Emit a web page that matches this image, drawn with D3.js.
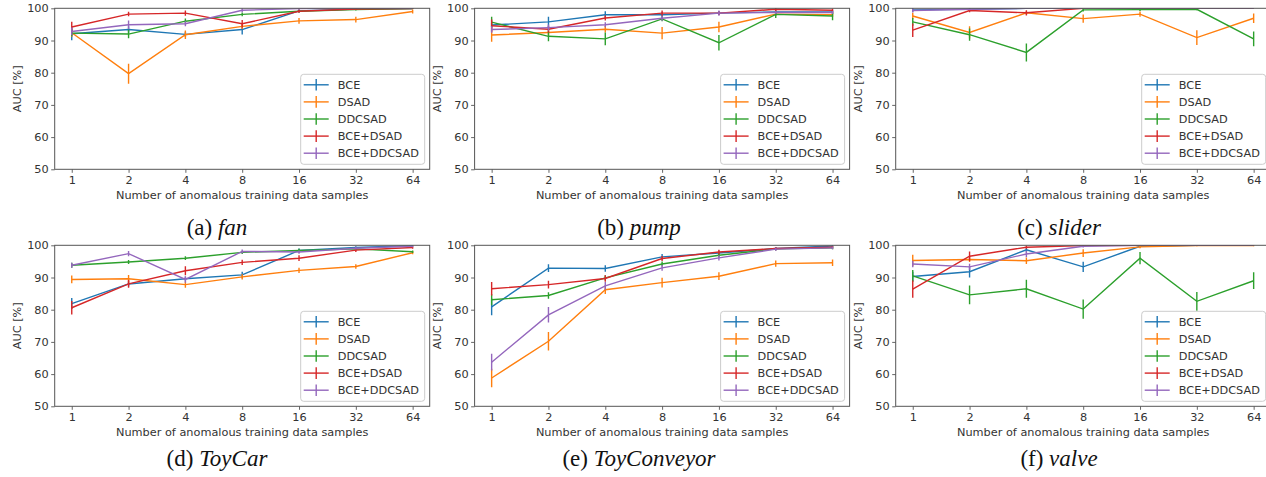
<!DOCTYPE html>
<html>
<head>
<meta charset="utf-8">
<script src="https://cdn.jsdelivr.net/npm/d3@7"></script>
<style>
  body { margin:0; background:#fff; }
  svg { display:block; }
  .ax text, .lab { font-family:"DejaVu Sans", sans-serif; font-size:11.3px; fill:#333; }
  .ax .tick line { stroke:#555; stroke-width:0.9; }
  .ax .domain { display:none; }
  .cap { font-family:"Liberation Serif", serif; font-size:23px; fill:#111; }
</style>
</head>
<body>
<svg width="1266" height="477"></svg>
<script>
const xTicks = [1, 2, 4, 8, 16, 32, 64];
const yTicks = [50, 60, 70, 80, 90, 100];
const methods = ['BCE', 'DSAD', 'DDCSAD', 'BCE+DSAD', 'BCE+DDCSAD'];
const colors = ['#1f77b4', '#ff7f0e', '#2ca02c', '#d62728', '#9467bd'];

// mean AUC per method (rows follow `methods`)
const fanAuc = [
  [92.1, 93.4, 91.9, 93.4, 99.2, 99.8, 99.9],
  [92.4, 79.7, 91.8, 94.4, 96.1, 96.5, 99.0],
  [92.3, 92.0, 96.0, 98.1, 99.1, 99.6, 99.9],
  [94.2, 98.2, 98.5, 95.2, 99.1, 99.8, 99.9],
  [92.8, 94.9, 95.2, 99.4, 99.9, 100, 100]];
const fanStd = [
  [2.0, 1.0, 0.8, 1.5, 0.5, 0.2, 0.1],
  [1.2, 3.1, 1.3, 0.8, 0.9, 0.9, 0.6],
  [1.0, 1.3, 0.8, 0.6, 0.4, 0.3, 0.1],
  [1.6, 0.7, 0.8, 1.2, 0.5, 0.2, 0.1],
  [1.2, 1.3, 0.8, 0.6, 0.2, 0.1, 0.1]];

const pumpAuc = [
  [94.8, 95.8, 98.0, 98.0, 98.5, 98.9, 98.9],
  [91.7, 92.5, 93.5, 92.3, 94.2, 98.2, 98.0],
  [95.7, 91.3, 90.5, 96.7, 89.3, 98.1, 97.6],
  [94.6, 93.5, 97.0, 98.5, 98.5, 99.7, 99.4],
  [93.4, 94.0, 94.9, 96.9, 98.5, 98.7, 98.7]];
const pumpStd = [
  [0.8, 1.6, 1.1, 0.8, 0.6, 0.6, 0.5],
  [2.1, 1.0, 1.0, 1.9, 1.6, 0.6, 0.6],
  [1.7, 1.5, 2.0, 0.7, 2.4, 1.1, 1.3],
  [1.9, 1.0, 0.8, 0.8, 0.6, 0.5, 0.5],
  [1.0, 1.0, 0.8, 0.8, 0.8, 0.5, 0.5]];

const sliderAuc = [
  [99.5, 99.7, 100, 100, 100, 100, 100],
  [97.6, 92.5, 98.6, 96.8, 98.2, 90.9, 96.9],
  [95.8, 91.8, 86.3, 99.5, 99.6, 99.7, 90.5],
  [93.2, 99.3, 98.6, 100, 100, 100, 100],
  [99.3, 99.7, 100, 100, 100, 100, 100]];
const sliderStd = [
  [0.6, 0.3, 0.1, 0, 0, 0, 0],
  [1.0, 1.9, 0.6, 1.3, 0.8, 2.3, 1.5],
  [1.2, 1.9, 2.8, 0.5, 0.4, 0.3, 2.3],
  [2.1, 0.5, 0.8, 0.1, 0, 0, 0],
  [0.6, 0.3, 0.1, 0, 0, 0, 0]];

const toyCarAuc = [
  [81.9, 88.0, 89.6, 90.8, 98.4, 99.3, 99.9],
  [89.4, 89.6, 87.8, 90.2, 92.2, 93.4, 97.7],
  [93.8, 94.8, 96.0, 97.8, 98.4, 98.9, 98.0],
  [80.6, 88.0, 92.1, 94.7, 96.0, 98.5, 99.3],
  [93.8, 97.4, 89.4, 98.1, 97.9, 99.1, 99.7]];
const toyCarStd = [
  [1.7, 0.8, 0.6, 1.0, 0.6, 0.4, 0.2],
  [1.2, 1.2, 1.0, 0.8, 0.8, 0.7, 0.5],
  [0.8, 0.6, 0.6, 0.5, 0.5, 0.4, 0.4],
  [2.1, 1.2, 1.4, 0.8, 0.9, 0.6, 0.4],
  [0.8, 0.8, 1.0, 0.6, 0.5, 0.4, 0.3]];

const toyConveyorAuc = [
  [80.9, 92.9, 92.8, 96.4, 97.6, 99.0, 99.8],
  [58.8, 70.2, 86.2, 88.4, 90.4, 94.3, 94.6],
  [83.1, 84.4, 89.9, 94.2, 96.9, 98.9, 99.2],
  [86.5, 87.8, 89.7, 95.9, 97.9, 99.0, 99.4],
  [63.7, 78.4, 87.4, 93.0, 96.1, 98.8, 99.2]];
const toyConveyorStd = [
  [2.6, 1.2, 1.0, 0.9, 0.8, 0.5, 0.4],
  [2.9, 2.9, 1.3, 1.5, 1.2, 1.0, 1.0],
  [1.7, 1.0, 0.8, 0.8, 0.6, 0.4, 0.4],
  [2.1, 1.2, 1.0, 0.8, 0.7, 0.5, 0.4],
  [2.6, 2.4, 1.2, 0.9, 0.8, 0.5, 0.4]];

const valveAuc = [
  [90.3, 91.8, 98.6, 93.3, 99.7, 100, 100],
  [95.3, 95.6, 95.2, 97.6, 99.5, 99.9, 99.9],
  [90.5, 84.6, 86.5, 80.2, 96.0, 82.6, 89.0],
  [86.4, 96.6, 99.4, 99.9, 100, 100, 100],
  [94.2, 93.3, 97.3, 99.7, 100, 100, 100]];
const valveStd = [
  [1.5, 1.8, 0.8, 1.6, 0.3, 0.1, 0.1],
  [1.8, 0.8, 1.0, 1.2, 0.4, 0.2, 0.2],
  [1.8, 2.9, 2.8, 3.0, 1.9, 2.9, 2.6],
  [2.7, 1.5, 0.5, 0.2, 0, 0, 0],
  [1.0, 1.0, 1.0, 0.4, 0, 0, 0]];

// layout of the six sub-figures
const colX = [54.7, 474.6, 895.7], rowY = [8.3, 245.3], pw = 375, ph = 161;
const capX = [217, 639, 1059], capY = [235, 466];

const panels = [
  {tag:'(a)', name:'fan', auc:fanAuc, std:fanStd},
  {tag:'(b)', name:'pump', auc:pumpAuc, std:pumpStd},
  {tag:'(c)', name:'slider', auc:sliderAuc, std:sliderStd},
  {tag:'(d)', name:'ToyCar', auc:toyCarAuc, std:toyCarStd},
  {tag:'(e)', name:'ToyConveyor', auc:toyConveyorAuc, std:toyConveyorStd},
  {tag:'(f)', name:'valve', auc:valveAuc, std:valveStd}];

const svg = d3.select('svg');

panels.forEach(function(p, i){
  const c = i % 3, r = Math.floor(i / 3);
  const x0 = colX[c], y0 = rowY[r];
  const x = d3.scalePoint(xTicks, [x0, x0 + pw]).padding(0.3); // 5% margins like matplotlib
  const y = d3.scaleLinear([50, 100], [y0 + ph, y0]);
  const g = svg.append('g');

  const clipId = 'clip' + i;
  svg.append('clipPath').attr('id', clipId).append('rect')
    .attr('x', x0).attr('y', y0).attr('width', pw).attr('height', ph);

  // axes
  g.append('g').attr('class', 'ax').attr('transform', `translate(${x0},0)`)
    .call(d3.axisLeft(y).tickValues(yTicks).tickSize(3.5).tickPadding(2.5));
  g.append('g').attr('class', 'ax').attr('transform', `translate(0,${y0 + ph})`)
    .call(d3.axisBottom(x).tickSize(3.5).tickPadding(3));

  g.append('text').attr('class', 'lab')
    .attr('transform', `translate(${x0 - 37.5},${y0 + ph / 2}) rotate(-90)`)
    .attr('text-anchor', 'middle').attr('dy', '0.35em')
    .text('AUC [%]');
  g.append('text').attr('class', 'lab')
    .attr('x', x0 + pw / 2).attr('y', y0 + ph + 25.5).attr('dy', '0.35em')
    .attr('text-anchor', 'middle')
    .text('Number of anomalous training data samples');

  // series: lines + vertical error bars (no caps)
  const plot = g.append('g').attr('clip-path', `url(#${clipId})`);
  const line = d3.line().x((d, j) => x(xTicks[j])).y(d => y(d));
  p.auc.forEach(function(vals, k){
    const s = plot.append('g').attr('stroke', colors[k]).attr('stroke-width', 1.4).attr('fill', 'none');
    s.append('path').attr('d', line(vals));
    s.selectAll('line').data(vals).enter().append('line')
      .attr('x1', (d, j) => x(xTicks[j])).attr('x2', (d, j) => x(xTicks[j]))
      .attr('y1', (d, j) => y(d - p.std[k][j])).attr('y2', (d, j) => y(d + p.std[k][j]));
  });

  // frame
  g.append('rect').attr('x', x0).attr('y', y0).attr('width', pw).attr('height', ph)
    .attr('fill', 'none').attr('stroke', '#555').attr('stroke-width', 1);

  // legend, lower right
  const lw = 124, lh = 90, lx = x0 + pw - 5 - lw, ly = y0 + ph - 5 - lh;
  const lg = g.append('g').attr('transform', `translate(${lx},${ly})`);
  lg.append('rect').attr('width', lw).attr('height', lh).attr('rx', 3)
    .attr('fill', '#fff').attr('fill-opacity', 0.8).attr('stroke', '#ccc');
  const it = lg.selectAll('g.it').data(methods).enter().append('g')
    .attr('transform', (d, k) => `translate(0,${10.5 + k * 17.1})`);
  it.append('line').attr('x1', 3).attr('x2', 28).attr('stroke', (d, k) => colors[k]).attr('stroke-width', 1.4);
  it.append('line').attr('x1', 15.5).attr('x2', 15.5).attr('y1', -5.8).attr('y2', 5.8)
    .attr('stroke', (d, k) => colors[k]).attr('stroke-width', 1.4);
  it.append('text').attr('class', 'lab').attr('x', 37).attr('dy', '0.35em').text(d => d);

  // caption
  const cap = svg.append('text').attr('class', 'cap')
    .attr('x', capX[c]).attr('y', capY[r]).attr('text-anchor', 'middle');
  cap.append('tspan').text(p.tag + ' ');
  cap.append('tspan').style('font-style', 'italic').text(p.name);
});
</script>
</body>
</html>
